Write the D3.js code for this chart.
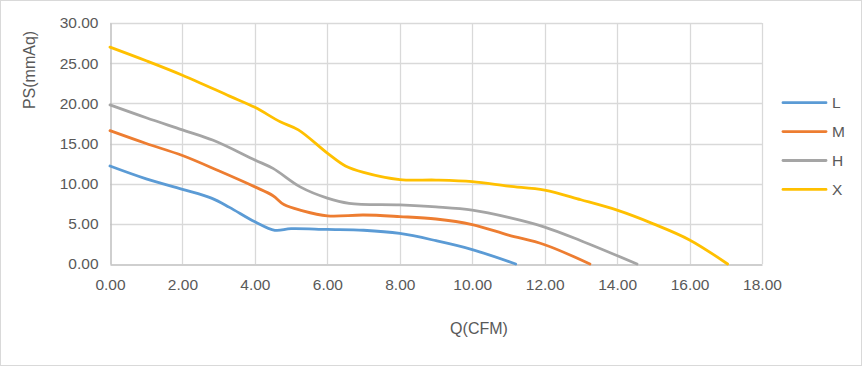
<!DOCTYPE html>
<html><head><meta charset="utf-8">
<script src="https://cdn.jsdelivr.net/npm/d3@7/dist/d3.min.js"></script>
<style>body{margin:0;background:#fff}svg{display:block;font-family:"Liberation Sans",Arial,sans-serif}</style>
</head><body><svg id="c" width="865" height="367"></svg>
<script>
const seriesNames = ["L","M","H","X"];
const seriesColors = ["#5B9BD5","#ED7D31","#A5A5A5","#FFC000"];
const L = [[0,12.2],[1,10.6],[2,9.3],[2.8,8.2],[3.3,7.05],[4,5.25],[4.55,4.2],[5,4.4],[6,4.3],[7,4.2],[8,3.8],[9,2.9],[10,1.8],[11.2,0]];
const M = [[0,16.6],[1,15.0],[2,13.5],[3,11.6],[4,9.6],[4.5,8.5],[4.8,7.4],[5.3,6.65],[6,6.0],[7,6.1],[8,5.9],[9,5.6],[10,4.9],[11,3.6],[12,2.4],[13.25,0]];
const H = [[0,19.8],[1,18.2],[2,16.7],[2.85,15.4],[4,12.95],[4.5,11.9],[5.25,9.6],[6,8.2],[6.6,7.55],[8,7.35],[9,7.1],[10,6.7],[11,5.8],[12,4.6],[13,2.9],[14.55,0]];
const X = [[0,27.0],[1,25.3],[2,23.5],[3.3,20.9],[4,19.5],[4.7,17.7],[5.2,16.7],[6,13.8],[6.5,12.2],[7,11.4],[8,10.5],[9,10.45],[10,10.25],[11,9.7],[12,9.2],[13,8.0],[14,6.7],[15,5.0],[16,3.0],[17.05,0]];
const xTicks = [0,2,4,6,8,10,12,14,16,18];
const yTicks = [0,5,10,15,20,25,30];
const xTitle = "Q(CFM)", yTitle = "PS(mmAq)";
const allSeries = [L,M,H,X];

const svg = d3.select("#c");
svg.append("rect").attr("x",0.5).attr("y",0.5).attr("width",861).attr("height",365).attr("fill","#fff").attr("stroke","#d9d9d9");

const x = d3.scaleLinear().domain([0,18]).range([110,762]);
const y = d3.scaleLinear().domain([0,30]).range([264,23]);

// gridlines
svg.append("g").selectAll("line").data(yTicks.filter(d=>d>0)).join("line")
  .attr("x1",110).attr("x2",762).attr("y1",d=>Math.round(y(d))+0.5).attr("y2",d=>Math.round(y(d))+0.5)
  .attr("stroke","#d9d9d9").attr("stroke-width",1.3);
svg.append("g").selectAll("line").data(xTicks.filter(d=>d>0)).join("line")
  .attr("y1",23).attr("y2",264).attr("x1",d=>Math.round(x(d))+0.5).attr("x2",d=>Math.round(x(d))+0.5)
  .attr("stroke","#d9d9d9").attr("stroke-width",1.3);

// axes
const xAxis = svg.append("g").attr("transform","translate(0,264.5)")
  .call(d3.axisBottom(x).tickValues(xTicks).tickFormat(d3.format(".2f")).tickSize(0).tickPadding(14));
const yAxis = svg.append("g").attr("transform","translate(110.5,0)")
  .call(d3.axisLeft(y).tickValues(yTicks).tickFormat(d3.format(".2f")).tickSize(0).tickPadding(12));
[xAxis,yAxis].forEach(a=>{
  a.select(".domain").attr("stroke","#bfbfbf").attr("stroke-width",1.5);
  a.selectAll("text").attr("fill","#595959").style("font-size","15.5px").style("font-family","'Liberation Sans',Arial,sans-serif");
});

// lines
const line = d3.line().x(d=>x(d[0])).y(d=>y(d[1])).curve(d3.curveCatmullRom.alpha(0.5));
svg.append("g").selectAll("path").data(allSeries).join("path")
  .attr("d",line).attr("fill","none").attr("stroke",(d,i)=>seriesColors[i])
  .attr("stroke-width",2.8).attr("stroke-linecap","round").attr("stroke-linejoin","round");

// titles
svg.append("text").attr("x",479).attr("y",334).attr("text-anchor","middle")
  .attr("fill","#595959").style("font-size","16px").text(xTitle);
svg.append("text").attr("transform","translate(35,70) rotate(-90)").attr("text-anchor","middle")
  .attr("fill","#595959").style("font-size","16px").text(yTitle);

// legend
const lg = svg.append("g").selectAll("g").data(seriesNames).join("g")
  .attr("transform",(d,i)=>`translate(783,${102.7+i*28.9})`);
lg.append("line").attr("x1",0).attr("x2",43).attr("stroke",(d,i)=>seriesColors[i]).attr("stroke-width",2.8).attr("stroke-linecap","round");
lg.append("text").attr("x",49).attr("y",5.5).attr("fill","#595959").style("font-size","15.5px").text(d=>d);
</script></body></html>
